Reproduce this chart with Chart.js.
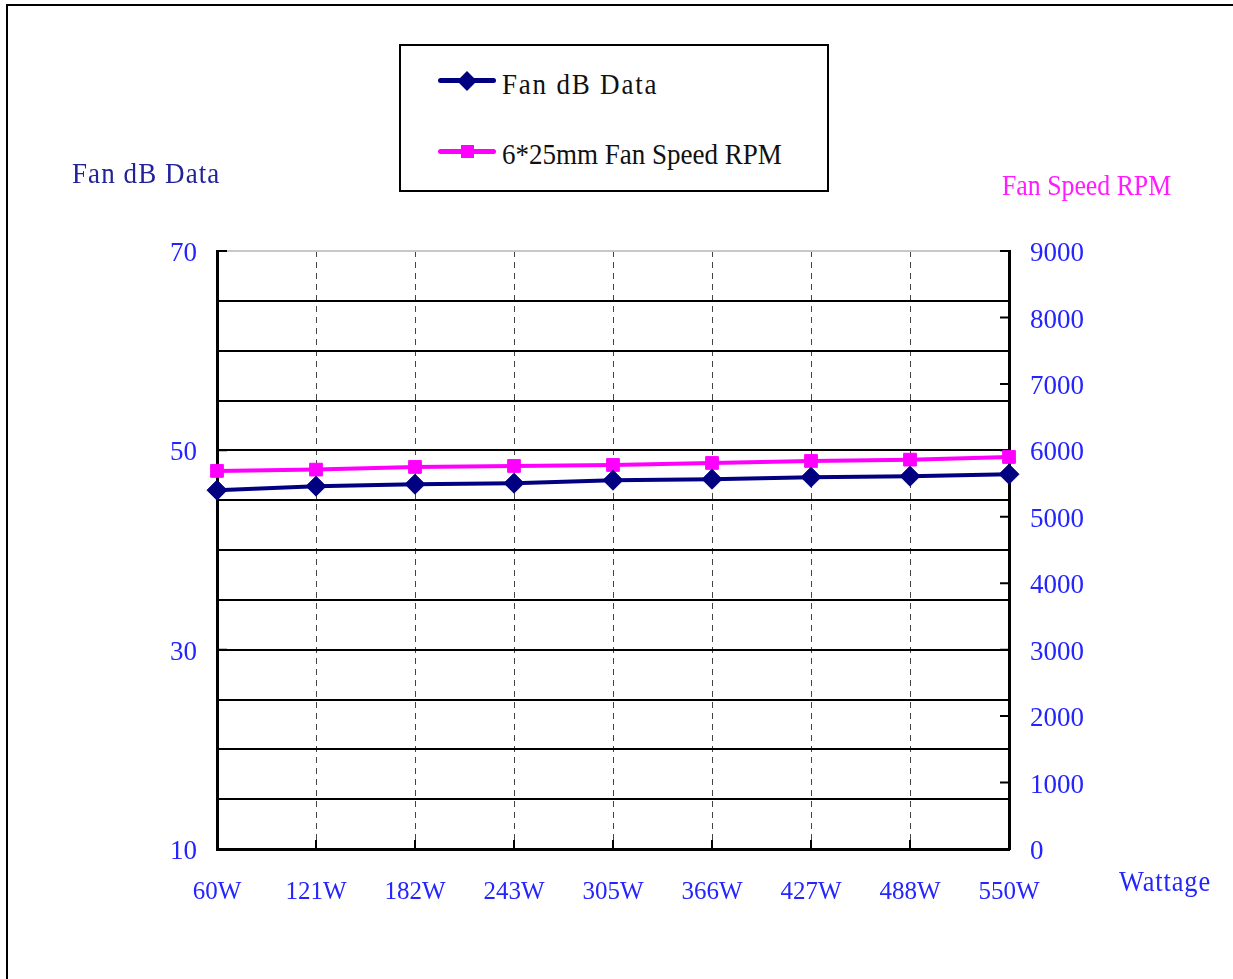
<!DOCTYPE html>
<html>
<head>
<meta charset="utf-8">
<title>Fan dB Data / Fan Speed RPM</title>
<script src="https://cdn.jsdelivr.net/npm/chart.js@4.4.1/dist/chart.umd.min.js"></script>
<style>
    html, body { margin: 0; padding: 0; background: #fff; overflow: hidden; }
    #wrap { position: relative; width: 1233px; height: 979px; }
    #frame {
        position: absolute; left: 6px; top: 4px; width: 1240px; height: 1000px;
        border: 2px solid #000; box-sizing: border-box;
    }
    #chart-box { position: absolute; left: 0; top: 0; width: 1233px; height: 979px; }
    .txt {
        position: absolute; font-family: 'Liberation Serif', 'Times New Roman', serif;
        font-size: 30px; line-height: 30px; white-space: nowrap;
        transform-origin: left center;
    }
    #legend {
        position: absolute; left: 399px; top: 44px; width: 430px; height: 148px;
        border: 2px solid #000; box-sizing: border-box; background: #fff;
    }
    .legend-line { position: absolute; left: 37px; width: 58px; height: 5px; border-radius: 3px; }
    .legend-mark { position: absolute; }
</style>
</head>
<body>
<div id="wrap">
    <div id="frame"></div>
    <div id="chart-box"><canvas id="fan-chart"></canvas></div>
    <div id="legend"></div>
    <div class="txt" id="title-left"  style="left:72px;  top:158px; color:#22229a; letter-spacing:1.2px; transform:scaleX(0.9);">Fan dB Data</div>
    <div class="txt" id="title-right" style="left:1002px; top:170px; color:#ff1aff; transform:scaleX(0.86);">Fan Speed RPM</div>
    <div class="txt" id="title-x"     style="left:1119px; top:866px; color:#2424ff; letter-spacing:1px; transform:scaleX(0.88);">Wattage</div>
</div>

<script>
// values
const wattLabels = ['60W', '121W', '182W', '243W', '305W', '366W', '427W', '488W', '550W'];
const fanDb      = [46.0, 46.4, 46.6, 46.7, 47.0, 47.1, 47.3, 47.4, 47.6];
const fanRpm     = [5690, 5710, 5750, 5765, 5780, 5810, 5840, 5860, 5900];
const dbTicksShown = [10, 30, 50, 70];

const NAVY    = '#000080';
const MAGENTA = '#ff00ff';
const BLUE    = '#2424ff';

// short black ticks pointing into the plot, like the original
const innerTicks = {
    id: 'innerTicks',
    beforeDatasetsDraw(chart) {
        const { ctx, chartArea, scales } = chart;
        ctx.save();
        ctx.strokeStyle = '#000';
        ctx.lineWidth = 2;
        ctx.beginPath();
        scales.x.ticks.forEach((t, i) => {
            const px = scales.x.getPixelForTick(i);
            ctx.moveTo(px, chartArea.bottom);
            ctx.lineTo(px, chartArea.bottom - 9);
        });
        scales.y1.ticks.forEach(t => {
            const py = scales.y1.getPixelForValue(t.value);
            ctx.moveTo(chartArea.right, py);
            ctx.lineTo(chartArea.right - 9, py);
        });
        dbTicksShown.forEach(v => {
            const py = scales.y.getPixelForValue(v);
            ctx.moveTo(chartArea.left, py);
            ctx.lineTo(chartArea.left + 10, py);
        });
        ctx.stroke();
        ctx.restore();
    }
};

const xFont = { family: "'Liberation Serif', 'Times New Roman', serif", size: 25 };
const yFont = { family: "'Liberation Serif', 'Times New Roman', serif", size: 27 };

const chart = new Chart(document.getElementById('fan-chart'), {
    type: 'line',
    data: {
        labels: wattLabels,
        datasets: [{
            label: 'Fan dB Data',
            data: fanDb,
            yAxisID: 'y',
            borderColor: NAVY,
            backgroundColor: NAVY,
            borderWidth: 4,
            pointStyle: 'rectRot',
            pointRadius: 10,
            pointBorderWidth: 1,
            tension: 0,
            clip: false
        }, {
            label: '6*25mm Fan Speed RPM',
            data: fanRpm,
            yAxisID: 'y1',
            borderColor: MAGENTA,
            backgroundColor: MAGENTA,
            borderWidth: 4,
            pointStyle: 'rect',
            pointRadius: 9,
            pointBorderWidth: 1,
            tension: 0,
            clip: false
        }]
    },
    options: {
        responsive: true,
        maintainAspectRatio: false,
        animation: false,
        events: [],
        layout: { padding: { top: 251, left: 0, right: 0, bottom: 0 } },
        plugins: {
            legend: { display: false },
            tooltip: { enabled: false }
        },
        scales: {
            x: {
                type: 'category',
                offset: false,
                afterFit: s => { s.height = 130; },
                grid: { color: '#444', lineWidth: 1, drawTicks: false },
                border: { display: true, color: '#000', width: 3, dash: [6, 5] },
                ticks: { color: BLUE, font: xFont, padding: 28, maxRotation: 0, autoSkip: false }
            },
            y: {
                position: 'left',
                min: 10,
                max: 70,
                afterFit: s => { s.width = 217; },
                grid: {
                    color: c => (c.tick && c.tick.value === 70 ? '#c8c8c8' : '#000'),
                    lineWidth: 2,
                    drawTicks: false
                },
                border: { display: true, color: '#000', width: 3 },
                ticks: {
                    stepSize: 5,
                    autoSkip: false,
                    color: BLUE,
                    font: yFont,
                    padding: 20,
                    labelOffset: 3,
                    callback: v => (dbTicksShown.includes(v) ? String(v) : '')
                }
            },
            y1: {
                position: 'right',
                min: 0,
                max: 9000,
                afterFit: s => { s.width = 224; },
                grid: { drawOnChartArea: false, drawTicks: false },
                border: { display: true, color: '#000', width: 3 },
                ticks: {
                    stepSize: 1000,
                    autoSkip: false,
                    color: BLUE,
                    font: yFont,
                    padding: 21,
                    labelOffset: 3,
                    callback: v => String(v)
                }
            }
        }
    },
    plugins: [innerTicks]
});

// html legend built from the datasets
function buildLegend() {
    const box = document.getElementById('legend');
    const rows = [
        { lineTop: 32, textTop: 23, mark: 'diamond' },
        { lineTop: 103, textTop: 93, mark: 'square' }
    ];
    chart.data.datasets.forEach((ds, i) => {
        const r = rows[i];
        const line = document.createElement('div');
        line.className = 'legend-line';
        line.style.top = r.lineTop + 'px';
        line.style.background = ds.borderColor;
        box.appendChild(line);

        const mark = document.createElement('div');
        mark.className = 'legend-mark';
        mark.style.background = ds.backgroundColor;
        if (r.mark === 'diamond') {
            mark.style.width = '14px';
            mark.style.height = '14px';
            mark.style.left = (66 - 7) + 'px';
            mark.style.top = (r.lineTop + 2.5 - 7) + 'px';
            mark.style.transform = 'rotate(45deg)';
        } else {
            mark.style.width = '13px';
            mark.style.height = '13px';
            mark.style.left = (66 - 6.5) + 'px';
            mark.style.top = (r.lineTop + 2.5 - 6.5) + 'px';
        }
        box.appendChild(mark);

        const label = document.createElement('div');
        label.className = 'txt';
        label.textContent = ds.label;
        label.style.left = '101px';
        label.style.top = r.textTop + 'px';
        label.style.color = '#111';
        label.style.transform = 'scaleX(0.9)';
        if (i === 0) label.style.letterSpacing = '2px';
        box.appendChild(label);
    });
}
buildLegend();
</script>
</body>
</html>
